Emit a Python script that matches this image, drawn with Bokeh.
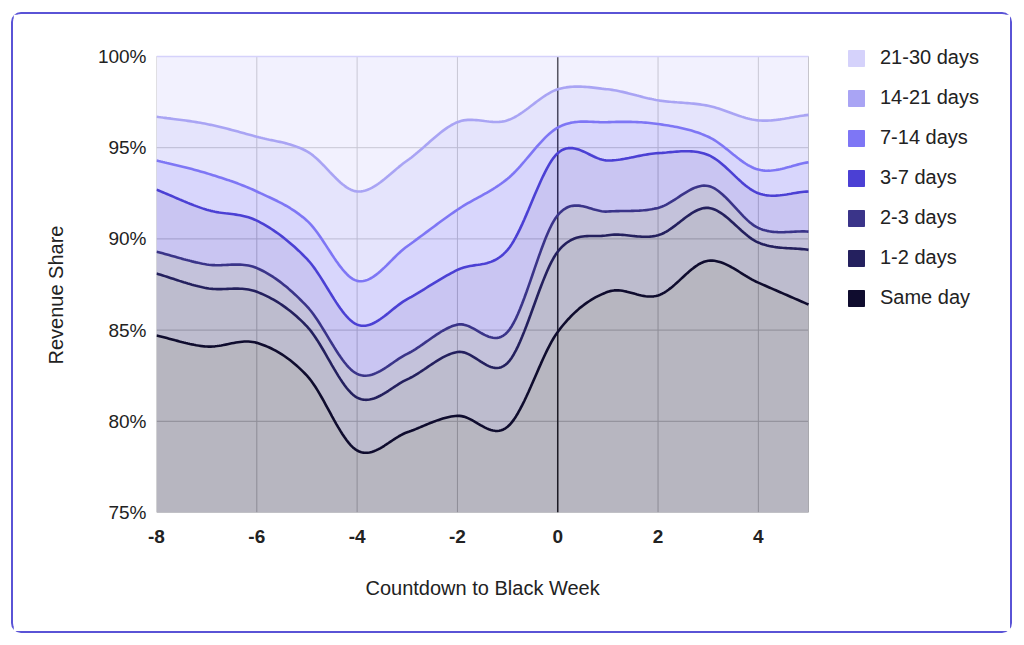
import numpy as np
from bokeh.plotting import figure
from bokeh.models import (Range1d, FixedTicker, PrintfTickFormatter, Legend, LegendItem, Title)
from bokeh.embed import file_html
from bokeh.resources import INLINE

# ---- data ----
weeks = [-8, -7, -6, -5, -4, -3, -2, -1, 0, 1, 2, 3, 4, 5]
series_names = ["Same day", "1-2 days", "2-3 days", "3-7 days", "7-14 days", "14-21 days", "21-30 days"]
same_day   = [84.7, 84.1, 84.3, 82.5, 78.4, 79.4, 80.3, 79.7, 84.9, 87.1, 86.9, 88.8, 87.6, 86.4]
days_1_2   = [3.4, 3.2, 2.8, 2.7, 2.9, 2.9, 3.5, 3.5, 4.4, 3.1, 3.3, 2.9, 2.2, 3.0]
days_2_3   = [1.2, 1.3, 1.3, 1.1, 1.3, 1.4, 1.5, 1.7, 2.0, 1.3, 1.5, 1.2, 0.8, 1.0]
days_3_7   = [3.4, 3.0, 2.6, 2.6, 2.7, 3.0, 3.0, 4.5, 3.4, 2.8, 3.0, 1.7, 1.9, 2.2]
days_7_14  = [1.6, 2.0, 1.6, 2.1, 2.4, 2.9, 3.3, 3.9, 1.4, 2.1, 1.6, 1.0, 1.3, 1.6]
days_14_21 = [2.4, 2.7, 3.0, 3.8, 4.9, 4.7, 4.8, 3.2, 2.1, 1.8, 1.3, 1.7, 2.7, 2.6]
days_21_30 = [3.3, 3.7, 4.4, 5.2, 7.4, 5.7, 3.6, 3.5, 1.8, 1.8, 2.4, 2.7, 3.5, 3.2]
colors = ["#0f0c2e", "#24205e", "#3a3489", "#4b40d4", "#7e76f5", "#a9a4f4", "#d5d2fb"]
y_ticks = [75, 80, 85, 90, 95, 100]
x_ticks = [-8, -6, -4, -2, 0, 2, 4]
x_title = "Countdown to Black Week"
y_title = "Revenue Share"

FONT = "Liberation Sans"

shares = np.array([same_day, days_1_2, days_2_3, days_3_7, days_7_14, days_14_21, days_21_30])
cum = np.cumsum(shares, axis=0)
xw = np.array(weeks, dtype=float)
x_lo, x_hi = weeks[0], weeks[-1]
y_lo, y_hi = y_ticks[0], y_ticks[-1]


def smooth(x, y, n=24):
    """Cubic Hermite (Catmull-Rom) rendering of a polyline, like a 'function' curve."""
    y = np.asarray(y, dtype=float)
    m = np.empty_like(y)
    m[1:-1] = (y[2:] - y[:-2]) / 2.0
    m[0] = y[1] - y[0]
    m[-1] = y[-1] - y[-2]
    xs, ys = [], []
    for i in range(len(y) - 1):
        t = np.linspace(0, 1, n, endpoint=(i == len(y) - 2))
        h00 = 2 * t**3 - 3 * t**2 + 1
        h10 = t**3 - 2 * t**2 + t
        h01 = -2 * t**3 + 3 * t**2
        h11 = t**3 - t**2
        dx = x[i + 1] - x[i]
        xs.append(x[i] + t * dx)
        ys.append(h00 * y[i] + h10 * m[i] + h01 * y[i + 1] + h11 * m[i + 1])
    return np.concatenate(xs), np.concatenate(ys)


# data area is 652 x 456 px; extra room on the right/top of the frame hosts the legend
PX_X = 652.0 / (x_hi - x_lo)
PX_Y = 456.0 / (y_hi - y_lo)
p = figure(width=1001, height=621, output_backend="svg", toolbar_location=None,
           x_range=Range1d(x_lo, x_hi + 180.0 / PX_X), y_range=Range1d(y_lo, y_hi + 10.0 / PX_Y),
           min_border_left=143, min_border_top=32, min_border_right=26, min_border_bottom=123)
p.margin = (12, 0, 0, 11)
p.styles = {"border": "2px solid #5a53d6", "border-radius": "10px"}
p.outline_line_color = None
p.background_fill_color = "white"
p.border_fill_color = "white"
p.xgrid.visible = False
p.ygrid.visible = False

# grid lines limited to the data area (drawn beneath the areas)
gx = x_ticks + [x_hi]
p.segment(x0=gx, x1=gx, y0=[y_lo] * len(gx), y1=[y_hi] * len(gx),
          line_color="#c4c4c4", line_width=1, level="underlay")
p.segment(x0=[x_lo] * len(y_ticks), x1=[x_hi] * len(y_ticks), y0=y_ticks, y1=y_ticks,
          line_color="#c4c4c4", line_width=1, level="underlay")
p.segment(x0=[0], x1=[0], y0=[y_lo], y1=[y_hi], line_color="#222222", line_width=1.5, level="underlay")

lower = np.zeros(len(weeks))
sm_lines = []
for k in range(len(series_names)):
    sx, top = smooth(xw, cum[k])
    _, bot = smooth(xw, lower) if k > 0 else (sx, np.full_like(sx, 0.0))
    p.varea(x=sx, y1=bot, y2=top, fill_color=colors[k], fill_alpha=0.3)
    sm_lines.append((sx, top))
    lower = cum[k]

for k in range(len(series_names) - 1, -1, -1):
    sx, top = sm_lines[k]
    p.line(sx, top, line_color=colors[k], line_width=(1.4 if k == len(series_names) - 1 else 2.6))

items = []
for k in range(len(series_names) - 1, -1, -1):
    r = p.rect(x=[np.nan], y=[np.nan], width=1, height=1, fill_color=colors[k], line_color=colors[k])
    items.append(LegendItem(label=series_names[k], renderers=[r], index=0))

legend = Legend(items=items, location=(690, 203), border_line_color=None,
                background_fill_alpha=0, padding=0, margin=0,
                glyph_width=20, glyph_height=20, label_height=20, spacing=17,
                label_standoff=14, label_text_font=FONT, label_text_font_size="20px",
                label_text_color="#222222")
p.add_layout(legend, "center")

p.yaxis.ticker = FixedTicker(ticks=y_ticks)
p.yaxis.formatter = PrintfTickFormatter(format="%d%%")
p.xaxis.ticker = FixedTicker(ticks=x_ticks)
p.xaxis.formatter = PrintfTickFormatter(format="%d")
for ax in (p.xaxis[0], p.yaxis[0]):
    ax.axis_line_color = None
    ax.major_tick_line_color = None
    ax.minor_tick_line_color = None
    ax.major_tick_out = 0
    ax.major_tick_in = 0
    ax.major_label_text_font = FONT
    ax.major_label_text_font_size = "19px"
    ax.major_label_text_color = "#222222"

p.xaxis.major_label_text_font_style = "bold"
p.xaxis.major_label_standoff = 17
p.yaxis.major_label_standoff = 10

tx = Title(text=x_title, align="left", offset=209, standoff=58, text_font=FONT,
           text_font_size="20px", text_font_style="normal", text_color="#222222")
p.add_layout(tx, "below")
ty = Title(text=y_title, align="left", offset=148, standoff=55, text_font=FONT,
           text_font_size="20px", text_font_style="normal", text_color="#222222")
p.add_layout(ty, "left")

open("out.html", "w").write(file_html(p, INLINE))
